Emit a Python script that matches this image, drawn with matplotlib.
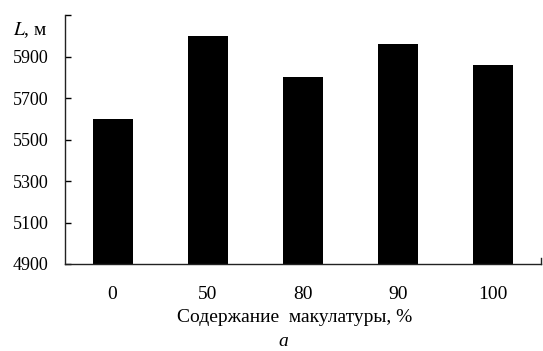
import matplotlib
matplotlib.use("Agg")
import matplotlib.pyplot as plt

# Paper-waste content (%) and breaking length L (m)
categories = ["0", "50", "80", "90", "100"]
lengths = [5600, 6000, 5800, 5960, 5860]
ytick_values = [4900, 5100, 5300, 5500, 5700, 5900, 6100]
ytick_labels = ["4900", "5100", "5300", "5500", "5700", "5900", ""]

plt.rcParams["font.family"] = ["Liberation Serif", "DejaVu Serif"]

fig = plt.figure(figsize=(5.43, 3.51), dpi=100)
ax = fig.add_axes([65 / 543, 1 - 264 / 351, (541 - 65) / 543, (264 - 15) / 351])

x = range(len(categories))
ax.bar(x, [v - 4900 for v in lengths], bottom=4900, width=0.42, color="black")

ax.set_xlim(-0.5, 4.5)
ax.set_ylim(4900, 6100)
ax.set_yticks(ytick_values)
ax.set_yticklabels(ytick_labels, fontsize=13)
ax.set_xticks(list(x))
ax.set_xticklabels(categories, fontsize=14)

ax.tick_params(axis="y", direction="in", length=4, width=1, pad=12)
ax.tick_params(axis="x", length=0, pad=16)

ax.spines["top"].set_visible(False)
ax.spines["right"].set_bounds(4900, 4930)
for side in ("left", "bottom", "right"):
    ax.spines[side].set_linewidth(1.0)
    ax.spines[side].set_color("#222222")

fig.text(13 / 543, 1 - 30 / 351, "$\\mathit{L}$, м", fontsize=14,
         va="center", ha="left", math_fontfamily="stix")
fig.text(295 / 543, 1 - 318 / 351, "Содержание  макулатуры, %", fontsize=14,
         va="center", ha="center")
fig.text(283 / 543, 1 - 341 / 351, "a", fontsize=14, style="italic",
         va="center", ha="center")

fig.savefig("out.png", dpi=100)
